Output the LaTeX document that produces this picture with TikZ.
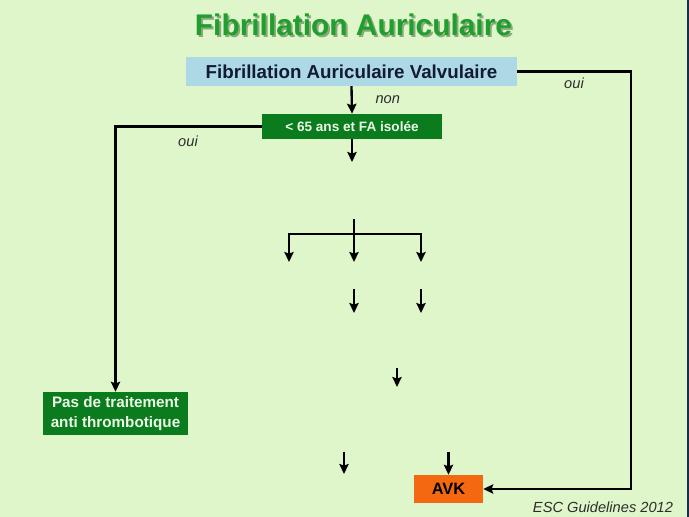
\documentclass[tikz,border=0pt]{standalone}
\usepackage{fontspec}
\setmainfont{Liberation Sans}
\usetikzlibrary{arrows.meta}
\definecolor{slideBg}{RGB}{223,246,203}
\definecolor{slideEdge}{RGB}{25,45,75}
\definecolor{titleGreen}{RGB}{32,158,46}
\definecolor{titleShadow}{RGB}{70,105,60}
\definecolor{boxBlue}{RGB}{173,216,230}
\definecolor{boxNavy}{RGB}{18,28,48}
\definecolor{boxGreen}{RGB}{10,124,30}
\definecolor{boxText}{RGB}{236,250,230}
\definecolor{boxOrange}{RGB}{244,104,16}
\definecolor{labelGray}{RGB}{45,45,45}
\newcommand{\shadowtitle}[1]{\makebox[0pt][l]{\kern1.6pt\raisebox{-1.6pt}{\textcolor{titleShadow!55!slideBg}{#1}}}#1}
\begin{document}
\begin{tikzpicture}
[x=0.03cm,y=-0.03cm,
  arrowLine/.style={-{Stealth[length=3mm,width=2.8mm,inset=0.5mm]},line width=2pt},%
  boxDecorate/.style={shape=rectangle,inner sep=0pt,align=center},%
  labelDecorate/.style={font=\fontsize{12.5}{14}\selectfont\itshape,text=labelGray}]
%% background
\fill[slideBg] (0,0) rectangle (689,517);
\fill[slideEdge] (687,0) rectangle (689,517);
\useasboundingbox (0,0) rectangle (689,517);
%% title
\node (title) at (353.5,25.5) [text=titleGreen,
  font=\fontsize{25.5}{28}\selectfont\bfseries] {\shadowtitle{Fibrillation Auriculaire}};
%% boxes
\node (vfa) at (351.5,71.5) [boxDecorate,fill=boxBlue,text=boxNavy,
  minimum width=9.93cm,minimum height=0.87cm,
  font=\fontsize{16}{18}\selectfont\bfseries] {Fibrillation Auriculaire Valvulaire};
\node (age) at (352,126.5) [boxDecorate,fill=boxGreen,text=boxText,
  minimum width=5.37cm,minimum height=0.75cm,
  font=\fontsize{11.6}{13}\selectfont\bfseries] {< 65 ans et FA isolée};
\node (pas) at (115.5,413.5) [boxDecorate,fill=boxGreen,text=boxText,
  minimum width=4.35cm,minimum height=1.29cm,
  font=\fontsize{13}{17}\selectfont\bfseries] {Pas de traitement\\anti thrombotique};
\node (avk) at (448.5,489) [boxDecorate,fill=boxOrange,text=black,
  minimum width=2.07cm,minimum height=0.84cm,
  font=\fontsize{14}{16}\selectfont\bfseries] {AVK};
%% free ends of the arrows
\foreach \name/\x/\y in {
  ageStub/352/162, treeTop/354/219, treeHub/354/234,
  treeLeft/289/262, treeMid/354/262, treeRight/421/262,
  midA/354/289, midAEnd/354/313, midB/421/289, midBEnd/421/313,
  lowA/397/368, lowAEnd/397/387, botA/344/452, botAEnd/344/474,
  botB/448.5/452}
{
  \coordinate (\name) at (\x,\y);
}
%% connectors
\draw[arrowLine] (vfa.south) -- (age.north)
  node[labelDecorate,midway,right=16pt] {non};
\draw[arrowLine] (vfa.east) -- (631,71.5) |- (avk.east);
\node (ouiRight) at (574,83) [labelDecorate] {oui};
\draw[arrowLine] (age.west) -| (pas.north);
\node (ouiLeft) at (188,141) [labelDecorate] {oui};
\draw[arrowLine] (age.south) -- (ageStub);
\draw[arrowLine] (treeTop) -- (treeMid);
\draw[arrowLine] (treeHub) -| (treeLeft);
\draw[arrowLine] (treeHub) -| (treeRight);
\foreach \startnode/\endnode in {
  midA/midAEnd, midB/midBEnd, lowA/lowAEnd, botA/botAEnd}
{
  \draw[arrowLine] (\startnode) -- (\endnode);
}
\draw[arrowLine] (botB) -- (avk.north);
%% source
\node (source) at (603,507) [labelDecorate] {ESC Guidelines 2012};
\end{tikzpicture}
\end{document}
